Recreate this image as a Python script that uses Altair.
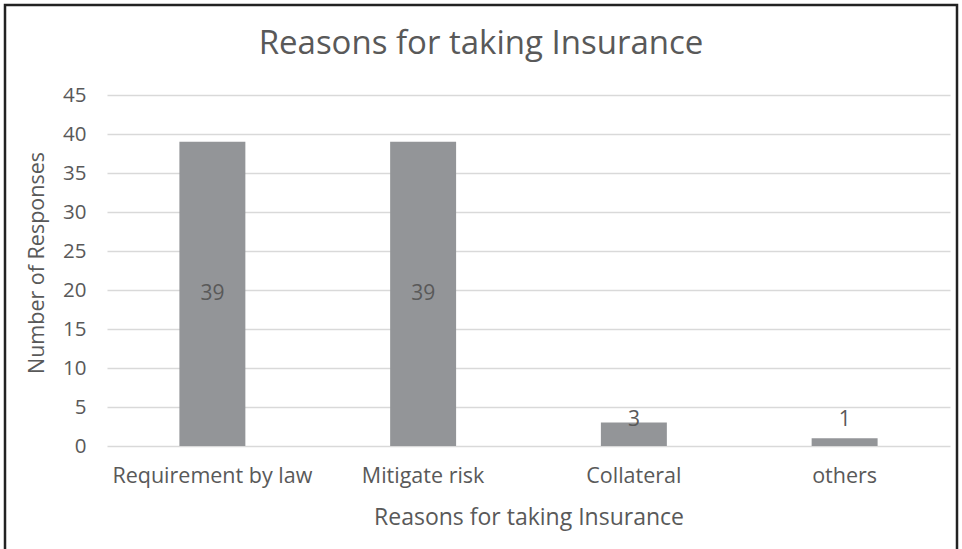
import altair as alt
import pandas as pd

# Survey responses: why respondents took out insurance
reasons = ["Requirement by law", "Mitigate risk", "Collateral", "others"]
responses = [39, 39, 3, 1]
y_ticks = [0, 5, 10, 15, 20, 25, 30, 35, 40, 45]
chart_title = "Reasons for taking Insurance"

df = pd.DataFrame({"reason": reasons, "count": responses})

FONT = "Open Sans"
TEXT = "#595959"
BAR = "#939598"

W, H = 843, 351
PAD_L, PAD_T = 107, 95

x_axis = alt.Axis(
    title="Reasons for taking Insurance",
    labelAngle=0,
    labelPadding=19,
    labelLimit=0,
    labelFontSize=21.5,
    labelFont=FONT,
    labelColor=TEXT,
    domain=False,
    ticks=False,
    grid=False,
    titleFont=FONT,
    titleFontSize=23,
    titleFontWeight="normal",
    titleColor=TEXT,
    titleY=71,
    titleBaseline="middle",
)

y_axis = alt.Axis(
    title="Number of Responses",
    values=y_ticks,
    labelOverlap=False,
    labelPadding=21,
    labelFontSize=20.5,
    labelFont=FONT,
    labelColor=TEXT,
    domain=False,
    ticks=False,
    gridColor="#d9d9d9",
    gridWidth=1.6,
    titleFont=FONT,
    titleFontSize=21.5,
    titleFontWeight="normal",
    titleColor=TEXT,
    titleX=-70,
    titleY=H / 2 - 8,
    titleAngle=-90,
    titleAlign="center",
    titleBaseline="middle",
)

x_scale = alt.Scale(paddingInner=0, paddingOuter=0)
y_scale = alt.Scale(domain=[0, 45], nice=False)

bars = alt.Chart(df).mark_bar(
    color=BAR, width=alt.RelativeBandSize(0.313)
).encode(
    x=alt.X("reason:N", sort=reasons, scale=x_scale, axis=x_axis),
    y=alt.Y("count:Q", scale=y_scale, axis=y_axis),
)

labels = (
    alt.Chart(df)
    .transform_calculate(pos="max(datum.count / 2, 3.3)")
    .mark_text(font=FONT, fontSize=21, color=TEXT, baseline="middle")
    .encode(
        x=alt.X("reason:N", sort=reasons, scale=x_scale, axis=x_axis),
        y=alt.Y("pos:Q", scale=y_scale, axis=y_axis),
        text=alt.Text("count:Q"),
    )
)

# chart heading, centred on the whole figure
heading = alt.Chart(pd.DataFrame({"t": [chart_title]})).mark_text(
    font=FONT, fontSize=33, color=TEXT, baseline="alphabetic", align="center"
).encode(
    x=alt.value(481 - PAD_L),
    y=alt.value(54 - PAD_T),
    text="t:N",
)

# outer frame around the whole figure
frame = alt.Chart(pd.DataFrame({"k": [0]})).mark_rect(
    fill=None, stroke="#222222", strokeWidth=2.5
).encode(
    x=alt.value(5 - PAD_L),
    x2=alt.value(957 - PAD_L),
    y=alt.value(5 - PAD_T),
    y2=alt.value(560 - PAD_T),
)

chart = (
    alt.layer(bars, labels, heading, frame)
    .properties(
        width=W,
        height=H,
        padding={"left": PAD_L, "top": PAD_T, "right": 962 - PAD_L - W, "bottom": 549 - PAD_T - H},
        autosize=alt.AutoSizeParams(type="none"),
    )
    .configure(background="white")
    .configure_view(stroke=None)
)

chart.save("out.html", embed_options={"renderer": "svg", "actions": False})
